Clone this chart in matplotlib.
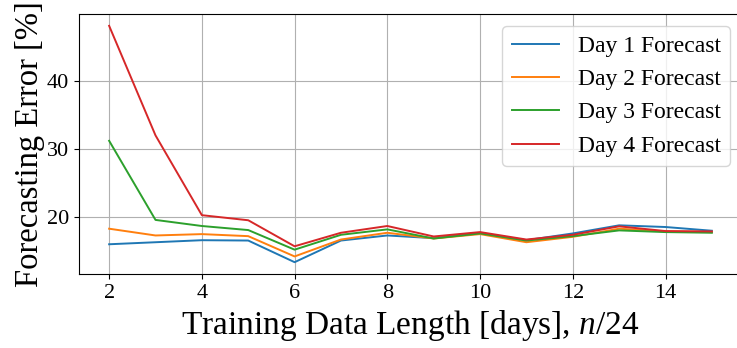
import matplotlib
matplotlib.use("Agg")
import matplotlib.pyplot as plt

plt.rcParams['font.family'] = ['Liberation Serif', 'DejaVu Serif']
plt.rcParams['mathtext.fontset'] = 'custom'
plt.rcParams['mathtext.it'] = 'Liberation Serif:italic'
plt.rcParams['mathtext.rm'] = 'Liberation Serif'

days = [2, 3, 4, 5, 6, 7, 8, 9, 10, 11, 12, 13, 14, 15]
day1 = [15.9, 16.2, 16.5, 16.45, 13.25, 16.45, 17.2, 16.8, 17.55, 16.5, 17.5, 18.7, 18.45, 17.9]
day2 = [18.2, 17.2, 17.4, 17.1, 14.1, 16.6, 17.6, 16.75, 17.4, 16.2, 17.0, 18.2, 17.8, 17.7]
day3 = [31.2, 19.5, 18.6, 18.0, 15.1, 17.3, 18.1, 16.75, 17.5, 16.45, 17.1, 17.95, 17.7, 17.6]
day4 = [48.2, 32.0, 20.2, 19.45, 15.6, 17.6, 18.6, 17.05, 17.7, 16.6, 17.3, 18.55, 17.85, 17.8]
labels = ["Day 1 Forecast", "Day 2 Forecast", "Day 3 Forecast", "Day 4 Forecast"]
xticks = [2, 4, 6, 8, 10, 12, 14]

fig = plt.figure(figsize=(7.37, 3.48), dpi=100)
ax = fig.add_axes([79/737, 74/348, 663/737, 260/348])
for s, lab in zip([day1, day2, day3, day4], labels):
    ax.plot(days, s, label=lab, linewidth=1.4)
ax.set_xticks(xticks)
ax.grid(True)
ax.tick_params(labelsize=16)
ax.set_xlabel(r"Training Data Length [days], $n$/24", fontsize=24)
ax.set_ylabel("Forecasting Error [%]", fontsize=23.5, labelpad=1.5)
ax.legend(loc='upper right', fontsize=17)
fig.savefig("out.png", dpi=100)
